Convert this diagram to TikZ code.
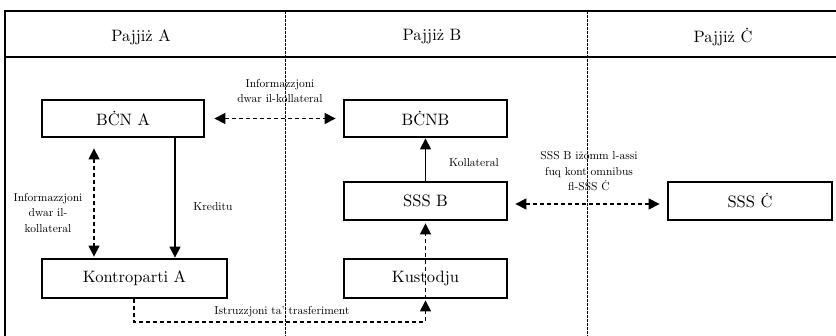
\documentclass[tikz,border=0pt]{standalone}
\usepackage{fontspec}
\setmainfont{lmroman10-regular}[Extension=.otf]
\usetikzlibrary{arrows.meta}
\begin{document}
\begin{tikzpicture}[x=1pt,y=-1pt,
  box/.style={draw,line width=2.8pt,inner sep=0pt,font=\fontsize{16.5}{18}\selectfont},
  lbl/.style={font=\fontsize{11.5}{15.5}\selectfont,align=center,inner sep=0pt},
  hdr/.style={font=\fontsize{16.5}{18}\selectfont,inner sep=0pt},
  conn/.style={line width=1.2pt,-{Triangle[length=11pt,width=11pt]}},
  dconn/.style={conn,dash pattern=on 4pt off 3pt},
  ddconn/.style={dconn,{Triangle[length=11pt,width=11pt]}-{Triangle[length=11pt,width=11pt]}},
  divider/.style={line width=0.7pt,dash pattern=on 3pt off 1pt},
  frame/.style={line width=2pt}]
\useasboundingbox (0,0) rectangle (836,336);

% frame and column dividers
\draw[frame] (836,11) -- (5,11) -- (5,336);
\draw[frame] (5,57) -- (836,57);
\draw[divider] (285,11) -- (285,336);
\draw[divider] (587,11) -- (587,336);

% column headers
\node[hdr] (hA) at (141,37) {Pajjiż A};
\node[hdr] (hB) at (432,37) {Pajjiż B};
\node[hdr] (hC) at (723,37) {Pajjiż Ċ};

% boxes
\node[box,minimum width=162pt,minimum height=37pt] (bcna) at (123,118.5) {BĊN A};
\node[box,minimum width=163pt,minimum height=37pt] (bcnb) at (425.5,118.5) {BĊNB};
\node[box,minimum width=163pt,minimum height=38pt] (sssb) at (425.5,201) {SSS B};
\node[box,minimum width=164pt,minimum height=38pt] (sssc) at (750,201) {SSS Ċ};
\node[box,minimum width=185pt,minimum height=39pt] (konta) at (134.5,278.5) {Kontroparti A};
\node[box,minimum width=163pt,minimum height=39pt] (kust) at (425.5,278.5) {Kustodju};

% connectors
\draw[ddconn,shorten <=9pt,shorten >=7pt] (bcna.east) -- (bcnb.west);
\draw[ddconn,shorten <=10pt,shorten >=1pt] (bcna.south -| 94,0) -- (konta.north -| 94,0);
\draw[conn] (bcna.south -| 175,0) -- (konta.north -| 175,0);
\draw[conn] (sssb.north) -- (bcnb.south);
\draw[ddconn,shorten <=7pt,shorten >=7pt] (sssb.east |- 0,204) -- (sssc.west |- 0,204);
\draw[dconn,shorten >=2pt] (kust.south) -- (sssb.south);
\coordinate (c1) at (134,322);
\coordinate (c2) at (425.5,322);
\draw[dconn,shorten >=1pt] (konta.south -| c1) -- (c1) -- (c2) -- (kust.south);

% labels
\node[lbl] (l1) at (280,91) {Informazzjoni\\dwar il-kollateral};
\node[lbl] (l2) at (48,213) {Informazzjoni\\dwar il-\\kollateral};
\node[lbl] (l3) at (213,207) {Kreditu};
\node[lbl] (l4) at (474,163) {Kollateral};
\node[lbl] (l5) at (589,171.5) {SSS B iżomm l-assi\\fuq kont omnibus\\fl-SSS Ċ};
\node[lbl] (l6) at (282,312) {Istruzzjoni ta' trasferiment};
\end{tikzpicture}
\end{document}
